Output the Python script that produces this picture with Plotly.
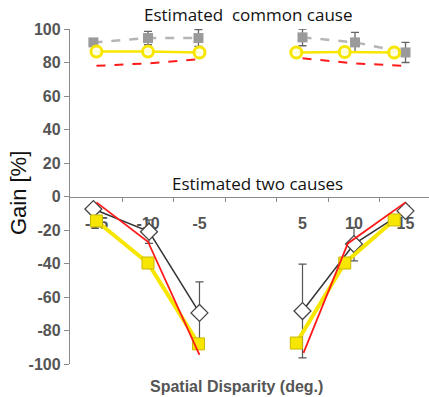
import plotly.graph_objects as go

# ---------------- data ----------------
x_tick_vals = [-15, -10, -5, 5, 10, 15]
x_tick_text = ["-15", "-10", "-5", "5", "10", "15"]
x_minor_ticks = [-12.5, -7.5, -2.5, 2.5, 7.5, 12.5]
y_tick_vals = [100, 80, 60, 40, 20, 0, -20, -40, -60, -80, -100]
y_tick_text = ["100", "80", "60", "40", "20", "0", "-20", "-40", "-60", "-80", "-100"]

# Estimated common cause (top)
gray_left_x = [-15.3, -10.0, -5.1]
gray_left_y = [92, 94.6, 94.6]
gray_left_err = [2, 4, 5]
gray_right_x = [5.0, 10.1, 15.0]
gray_right_y = [95, 92, 86]
gray_right_err = [5, 6, 6]

yel_c_left_x = [-15.0, -10.0, -5.0]
yel_c_left_y = [86.5, 86.5, 86.0]
yel_c_right_x = [4.4, 9.1, 13.9]
yel_c_right_y = [86.0, 86.3, 86.0]

red_c_left_x = [-15.0, -10.0, -5.0]
red_c_left_y = [78, 79.5, 82]
red_c_right_x = [5.0, 10.0, 15.0]
red_c_right_y = [82.5, 79.5, 78]

# Estimated two causes (bottom)
blk_left_x = [-15.3, -9.9, -5.0]
blk_left_y = [-7.5, -21, -69.5]
blk_left_err = [2, 7, 18.5]
blk_right_x = [5.0, 10.0, 15.0]
blk_right_y = [-68.4, -28.4, -8.6]
blk_right_err = [28, 10, 3]

red_t_left_x = [-15.0, -10.0, -5.0]
red_t_left_y = [-3.5, -27, -94.5]
red_t_right_x = [5.1, 9.4, 15.0]
red_t_right_y = [-93.4, -28, -3.5]

yel_s_left_x = [-15.0, -10.0, -5.1]
yel_s_left_y = [-14.6, -39.7, -88]
yel_s_right_x = [4.4, 9.1, 13.9]
yel_s_right_y = [-87.5, -39.7, -14]

# ---------------- styles ----------------
YEL = "#f7e600"
RED = "#ff1a1a"
GRAY = "#9a9a9a"
AXC = "#8a8a8a"
TXT = "#555555"

fig = go.Figure()

# gray squares, dashed
for xs, ys, es in [(gray_left_x, gray_left_y, gray_left_err), (gray_right_x, gray_right_y, gray_right_err)]:
    fig.add_trace(go.Scatter(
        x=xs, y=ys, mode="lines+markers",
        line=dict(color="#b5b5b5", width=2.5, dash="dash"),
        marker=dict(symbol="square", size=10, color=GRAY),
        error_y=dict(type="data", array=es, color="#666666", thickness=1.3, width=4),
        showlegend=False))

# red dashed (common cause)
for xs, ys in [(red_c_left_x, red_c_left_y), (red_c_right_x, red_c_right_y)]:
    fig.add_trace(go.Scatter(x=xs, y=ys, mode="lines",
                             line=dict(color=RED, width=2, dash="dash"), showlegend=False))

# yellow circles
for xs, ys in [(yel_c_left_x, yel_c_left_y), (yel_c_right_x, yel_c_right_y)]:
    fig.add_trace(go.Scatter(
        x=xs, y=ys, mode="lines+markers",
        line=dict(color=YEL, width=2.5),
        marker=dict(symbol="circle", size=11, color="rgba(255,255,230,0.9)",
                    line=dict(color=YEL, width=3)),
        showlegend=False))

# black diamonds
for xs, ys, es in [(blk_left_x, blk_left_y, blk_left_err), (blk_right_x, blk_right_y, blk_right_err)]:
    fig.add_trace(go.Scatter(
        x=xs, y=ys, mode="lines+markers",
        line=dict(color="#333333", width=1.5),
        marker=dict(symbol="diamond", size=13, color="white",
                    line=dict(color="#444444", width=1.3)),
        error_y=dict(type="data", array=es, color="#555555", thickness=1.2, width=4),
        showlegend=False))

# yellow squares
for xs, ys in [(yel_s_left_x, yel_s_left_y), (yel_s_right_x, yel_s_right_y)]:
    fig.add_trace(go.Scatter(
        x=xs, y=ys, mode="lines+markers",
        line=dict(color=YEL, width=4),
        marker=dict(symbol="square", size=12, color=YEL,
                    line=dict(color="#c9b800", width=1)),
        showlegend=False))

# red solid (two causes)
for xs, ys in [(red_t_left_x, red_t_left_y), (red_t_right_x, red_t_right_y)]:
    fig.add_trace(go.Scatter(x=xs, y=ys, mode="lines",
                             line=dict(color=RED, width=1.8), showlegend=False))

# dummy trace for xaxis2
fig.add_trace(go.Scatter(x=[None], y=[None], xaxis="x2", showlegend=False))

XR = [-17.57, 17.28]

fig.update_layout(
    width=429, height=397,
    margin=dict(l=70, r=0, t=29, b=33),
    paper_bgcolor="white", plot_bgcolor="white",
    xaxis=dict(range=XR, anchor="free", position=0.5, showgrid=False, zeroline=False,
               showline=True, linecolor=AXC, linewidth=1.3,
               tickvals=x_minor_ticks, ticks="outside", ticklen=4, tickcolor=AXC,
               showticklabels=False, layer="below traces"),
    xaxis2=dict(range=XR, overlaying="x", anchor="free", position=0.455, showgrid=False,
                zeroline=False, showline=False, tickvals=x_tick_vals, ticktext=x_tick_text,
                ticks="", tickfont=dict(family="Liberation Sans", size=16, color=TXT, weight="bold"),
                layer="below traces"),
    yaxis=dict(range=[-100, 100], showgrid=False, zeroline=False,
               showline=True, linecolor=AXC, linewidth=1.3,
               tickvals=y_tick_vals, ticktext=y_tick_text, ticks="outside", ticklen=5,
               tickcolor=AXC,
               tickfont=dict(family="Liberation Sans", size=16, color=TXT, weight="bold"),
               layer="below traces"),
    annotations=[
        dict(x=0.496, y=1.042, xref="paper", yref="paper", text="Estimated&nbsp; common cause",
             xanchor="center", yanchor="middle",
             showarrow=False, font=dict(family="Open Sans", size=17, color="#111111")),
        dict(x=0.521, y=0.540, xref="paper", yref="paper", text="Estimated two causes",
             xanchor="center", yanchor="middle",
             showarrow=False, font=dict(family="Open Sans", size=17, color="#111111")),
        dict(x=0.465, y=-0.066, xref="paper", yref="paper", text="<b>Spatial Disparity (deg.)</b>",
             xanchor="center", yanchor="middle",
             showarrow=False, font=dict(family="Liberation Sans", size=16, color=TXT)),
        dict(x=-0.145, y=0.51, xref="paper", yref="paper", text="Gain [%]", textangle=-90,
             xanchor="center", yanchor="middle",
             showarrow=False, font=dict(family="Liberation Sans", size=22, color="#111111")),
    ],
)

fig.write_html("out.html")
